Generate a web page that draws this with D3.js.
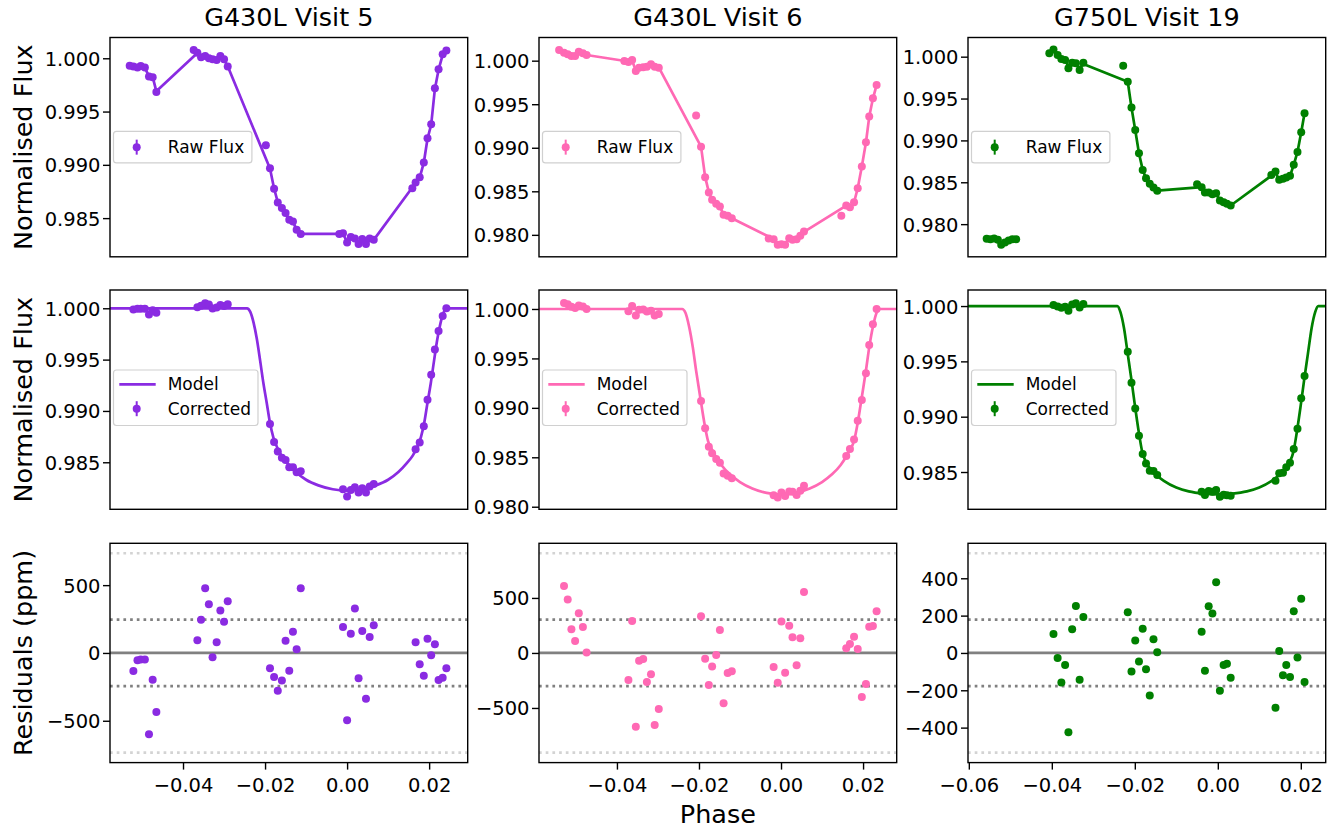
<!DOCTYPE html>
<html>
<head>
<meta charset="utf-8">
<script src="https://cdn.jsdelivr.net/npm/d3@7/dist/d3.min.js"></script>
<style>
  html, body { margin: 0; padding: 0; background: #fff; }
  svg { display: block; }
</style>
</head>
<body>
<svg id="chart" width="1338" height="829"></svg>
<script>
// ---------------------------------------------------------------
// Light-curve data: three HST/STIS visits
// ---------------------------------------------------------------
const visitTitles = ["G430L Visit 5", "G430L Visit 6", "G750L Visit 19"];
const visitColors = ["#8a2be2", "#ff69b4", "#008000"];

const phaseTicks = [-0.06, -0.04, -0.02, 0.00, 0.02];
const fluxTicks = [0.980, 0.985, 0.990, 0.995, 1.000];
const residTicks5 = [-500, 0, 500];
const residTicks6 = [-500, 0, 500];
const residTicks19 = [-400, -200, 0, 200, 400];
const residualStd = [245, 302, 178];           // ppm, 1-sigma scatter per visit

const phaseLimits = [[-0.0578, 0.0294], [-0.0590, 0.0282], [-0.0602, 0.0260]];
const rawLimits = [[0.98137, 1.00195], [0.97748, 1.00266], [0.97610, 1.00229]];
const corrLimits = [[0.98042, 1.00178], [0.97974, 1.00192], [0.98163, 1.00145]];

// ---- Visit 5 (G430L) ----
const v5Phase = [
  -0.0521,-0.0511,-0.0503,-0.0493,-0.0483,-0.0474,-0.0465,
  -0.0365,-0.0356,-0.0346,-0.0337,-0.0328,-0.0318,-0.0309,-0.0300,-0.0291,
  -0.0188,-0.0178,-0.0169,-0.0159,-0.0150,-0.0141,-0.0132,-0.0123,-0.0113,
  -0.0010,0.0000,0.0009,0.0019,0.0028,0.0037,0.0046,0.0055,0.0065,
  0.0167,0.0177,0.0187,0.0196,0.0205,0.0214,0.0223,0.0233,0.0242];
const v5Raw = [
  0.99922,0.99913,0.99928,0.99913,0.99828,0.99822,0.99684,
  1.00053,1.00009,1.00022,1.00000,0.99991,0.99984,1.00022,0.99991,0.99922,
  0.98969,0.98775,0.98647,0.98594,0.98547,0.98484,0.98469,0.98391,0.98350,
  0.98359,0.98272,0.98322,0.98309,0.98256,0.98303,0.98256,0.98309,0.98297,
  0.98834,0.98884,0.99022,0.99250,0.99381,0.99719,0.99897,1.00038,1.00072];
const v5SysModel = [
  0.99925,0.99915,0.99925,0.99910,0.99832,0.99825,0.99690,
  1.00050,1.00012,1.00018,1.00000,0.99992,0.99986,1.00018,0.99990,0.99925,
  0.98965,0.98778,0.98650,0.98594,0.98545,0.98486,0.98465,0.98392,0.98352,
  0.98352,0.98280,0.98318,0.98306,0.98262,0.98300,0.98262,0.98305,0.98296,
  0.98830,0.98880,0.99020,0.99245,0.99378,0.99712,0.99893,1.00032,1.00068];
const v5Corrected = [
  0.99987,0.99995,0.99995,0.99995,0.99940,0.99980,0.99957,
  1.00009,1.00024,1.00048,1.00036,0.99997,1.00008,1.00031,1.00023,1.00038,
  0.98873,0.98698,0.98604,0.98545,0.98523,0.98451,0.98451,0.98403,0.98412,
  0.98237,0.98166,0.98231,0.98256,0.98205,0.98247,0.98205,0.98263,0.98289,
  0.98627,0.98693,0.98850,0.99108,0.99353,0.99598,0.99778,0.99925,1.00000];
const v5Residual = [
  -134,-54,-49,-49,-599,-198,-435,
  93,244,477,359,-32,78,313,230,381,
  -112,-178,-279,-203,90,-132,156,27,477,
  191,-496,142,328,-186,161,-337,117,205,
  78,-83,-169,105,-17,64,-200,-183,-112];
const v5DropPhase = [-0.0530, -0.0374, -0.0198, -0.0019, 0.0159];
const v5DropFlux = [0.99931, 1.00078, 0.99184, 0.98350, 0.98781];
const v5ModelPhase = [-0.0578,-0.0244,-0.0236,-0.0228,-0.0220,-0.0212,-0.0204,-0.0196,-0.0188,-0.0180,
  -0.0170,-0.0160,-0.0145,-0.0125,-0.0100,-0.0070,-0.0035,0.0000,0.0035,0.0070,0.0100,0.0125,0.0145,
  0.0160,0.0170,0.0180,0.0188,0.0196,0.0204,0.0212,0.0220,0.0228,0.0236,0.0244,0.0294];
const v5ModelFlux = [1,1,0.99965,0.99860,0.99700,0.99490,0.99270,0.99080,0.98884,0.98745,
  0.98640,0.98565,0.98490,0.98405,0.98330,0.98275,0.98237,0.98224,0.98237,0.98275,0.98330,0.98405,0.98490,
  0.98565,0.98640,0.98745,0.98884,0.99080,0.99270,0.99490,0.99700,0.99860,0.99965,1,1];

// ---- Visit 6 (G430L) ----
const v6Phase = [
  -0.0529,-0.0520,-0.0511,-0.0502,-0.0493,-0.0483,-0.0474,
  -0.0372,-0.0363,-0.0354,-0.0346,-0.0336,-0.0327,-0.0317,-0.0308,-0.0298,
  -0.0195,-0.0185,-0.0176,-0.0168,-0.0158,-0.0149,-0.0140,-0.0130,-0.0120,
  -0.0018,-0.0008,0.0001,0.0010,0.0020,0.0028,0.0038,0.0047,0.0056,
  0.0159,0.0168,0.0178,0.0187,0.0197,0.0207,0.0215,0.0224,0.0233];
const v6Raw = [
  1.00092,1.00073,1.00054,1.00054,1.00103,1.00084,1.00065,
  0.99985,1.00008,0.99881,0.99920,0.99924,0.99931,0.99958,0.99931,0.99920,
  0.99013,0.98662,0.98486,0.98402,0.98356,0.98325,0.98230,0.98218,0.98191,
  0.97950,0.97885,0.97893,0.97885,0.97962,0.97943,0.97950,0.97989,0.98038,
  0.98337,0.98317,0.98375,0.98535,0.98784,0.99063,0.99358,0.99568,0.99721];
const v6SysModel = [
  1.00085,1.00070,1.00058,1.00055,1.00095,1.00080,1.00065,
  0.99990,1.00000,0.99890,0.99920,0.99925,0.99930,0.99950,0.99930,0.99922,
  0.99013,0.98665,0.98490,0.98402,0.98356,0.98322,0.98235,0.98218,0.98191,
  0.97952,0.97890,0.97890,0.97890,0.97955,0.97945,0.97950,0.97985,0.98035,
  0.98335,0.98320,0.98372,0.98535,0.98784,0.99060,0.99355,0.99565,0.99720];
const v6Corrected = [
  1.00061,1.00049,1.00022,1.00011,1.00036,1.00024,1.00000,
  0.99976,1.00029,0.99933,0.99993,0.99995,0.99974,0.99981,0.99935,0.99949,
  0.99069,0.98793,0.98607,0.98540,0.98482,0.98445,0.98337,0.98314,0.98287,
  0.98115,0.98094,0.98145,0.98108,0.98155,0.98152,0.98118,0.98162,0.98213,
  0.98513,0.98583,0.98681,0.98870,0.99079,0.99349,0.99636,0.99845,1.00000];
const v6Residual = [
  609,485,215,109,361,236,3,
  -245,291,-670,-70,-55,-264,-194,-655,-509,
  333,-52,-291,-124,-18,209,-458,-182,-167,
  -127,-270,285,-179,248,142,-112,133,554,
  42,82,148,36,-400,-282,239,245,379];
const v6DropPhase = [-0.0541, -0.0382, -0.0207, -0.0030, 0.0147];
const v6DropFlux = [1.00122, 0.99996, 0.99369, 0.97958, 0.98218];
const v6ModelPhase = [-0.0590,-0.0241,-0.0233,-0.0224,-0.0215,-0.0207,-0.0197,-0.0187,-0.0178,-0.0168,
  -0.0158,-0.0145,-0.0125,-0.0100,-0.0070,-0.0035,0.0000,0.0035,0.0070,0.0100,0.0125,0.0145,0.0158,
  0.0168,0.0178,0.0187,0.0197,0.0207,0.0215,0.0224,0.0233,0.0241,0.0282];
const v6ModelFlux = [1,1,0.99962,0.99821,0.99612,0.99377,0.99110,0.98850,0.98666,0.98575,
  0.98500,0.98420,0.98330,0.98250,0.98185,0.98140,0.98122,0.98140,0.98185,0.98250,0.98330,0.98420,0.98500,
  0.98575,0.98666,0.98850,0.99110,0.99377,0.99612,0.99821,0.99962,1,1];

// ---- Visit 19 (G750L) ----
const v19Phase = [
  -0.0396,-0.0386,-0.0377,-0.0368,-0.0360,-0.0351,-0.0342,-0.0333,-0.0324,
  -0.0217,-0.0208,-0.0199,-0.0190,-0.0181,-0.0173,-0.0164,-0.0155,-0.0146,
  -0.0039,-0.0031,-0.0022,-0.0013,-0.0004,0.0005,0.0014,0.0022,0.0031,
  0.0139,0.0148,0.0157,0.0165,0.0174,0.0183,0.0192,0.0201,0.0209];
const v19Raw = [
  1.00087,1.00020,0.99972,0.99960,0.99861,0.99928,0.99920,0.99841,0.99928,
  0.99702,0.99392,0.99125,0.98847,0.98648,0.98549,0.98481,0.98437,0.98398,
  0.98441,0.98378,0.98378,0.98358,0.98370,0.98282,0.98262,0.98243,0.98223,
  0.98628,0.98529,0.98541,0.98557,0.98577,0.98708,0.98863,0.99097,0.99324];
const v19SysModel = [
  1.00065,1.00020,0.99975,0.99960,0.99885,0.99925,0.99915,0.99865,0.99912,
  0.99700,0.99392,0.99125,0.98847,0.98648,0.98549,0.98481,0.98437,0.98400,
  0.98441,0.98380,0.98375,0.98360,0.98362,0.98285,0.98262,0.98243,0.98223,
  0.98615,0.98530,0.98540,0.98557,0.98577,0.98708,0.98863,0.99097,0.99324];
const v19Corrected = [
  1.00010,0.99997,0.99984,0.99994,0.99958,1.00013,1.00025,0.99986,1.00019,
  0.99587,0.99307,0.99075,0.98828,0.98663,0.98578,0.98512,0.98509,0.98473,
  0.98322,0.98292,0.98328,0.98322,0.98337,0.98277,0.98295,0.98289,0.98286,
  0.98422,0.98488,0.98494,0.98542,0.98584,0.98708,0.98892,0.99166,0.99367];
const v19Residual = [
  101,-27,-158,-65,-425,127,251,-143,193,
  218,-99,67,-46,129,-87,-228,73,4,
  113,-96,250,211,379,-202,-65,-58,-133,
  -294,11,-119,-64,-129,223,-25,290,-156];
const v19DropPhase = [-0.0557,-0.0548,-0.0539,-0.0530,-0.0522,-0.0513,-0.0504,-0.0495,-0.0486,
  -0.0406,-0.0228,-0.0050,0.0129];
const v19DropFlux = [0.97825,0.97821,0.97829,0.97813,0.97753,0.97781,0.97805,0.97821,0.97821,
  1.00040,0.99893,0.98477,0.98588];
const v19ModelPhase = [-0.0602,-0.0242,-0.0235,-0.0226,-0.0217,-0.0208,-0.0199,-0.0190,-0.0182,-0.0173,
  -0.0164,-0.0150,-0.0130,-0.0100,-0.0070,-0.0035,0.0000,0.0035,0.0070,0.0100,0.0130,0.0150,0.0164,
  0.0173,0.0182,0.0190,0.0199,0.0208,0.0217,0.0226,0.0235,0.0242,0.0260];
const v19ModelFlux = [1,1,0.99950,0.99800,0.99565,0.99330,0.99080,0.98850,0.98680,0.98590,
  0.98535,0.98480,0.98420,0.98360,0.98325,0.98305,0.98298,0.98305,0.98325,0.98360,0.98420,0.98480,0.98535,
  0.98590,0.98680,0.98850,0.99080,0.99330,0.99565,0.99800,0.99950,1,1];

const visits = [
  { phase: v5Phase, raw: v5Raw, sys: v5SysModel, corr: v5Corrected, res: v5Residual,
    dropPhase: v5DropPhase, dropFlux: v5DropFlux, modelPhase: v5ModelPhase, modelFlux: v5ModelFlux,
    resTicks: residTicks5 },
  { phase: v6Phase, raw: v6Raw, sys: v6SysModel, corr: v6Corrected, res: v6Residual,
    dropPhase: v6DropPhase, dropFlux: v6DropFlux, modelPhase: v6ModelPhase, modelFlux: v6ModelFlux,
    resTicks: residTicks6 },
  { phase: v19Phase, raw: v19Raw, sys: v19SysModel, corr: v19Corrected, res: v19Residual,
    dropPhase: v19DropPhase, dropFlux: v19DropFlux, modelPhase: v19ModelPhase, modelFlux: v19ModelFlux,
    resTicks: residTicks19 }
];

// ---------------------------------------------------------------
// Layout
// ---------------------------------------------------------------
const W = 1338, H = 829;
const colLeft = [110, 539, 968];
const colWidth = 357.7;
const rowTop = [37.5, 290, 543.3];
const rowHeight = 219.3;

const FONT = '"DejaVu Sans", sans-serif';
const TICK_FS = 19.5, LABEL_FS = 25.5, LEGEND_FS = 17;
const LINE_W = 2.7, DOT_R = 4, SPINE_W = 1.4;

const svg = d3.select("#chart").attr("font-family", FONT);
svg.append("rect").attr("width", W).attr("height", H).attr("fill", "#fff");

const fmtFlux = d3.format(".3f");
const minus = s => s.replace("-", "\u2212");
const fmtPhase = d => minus(d3.format(".2f")(d));
const fmtRes = d => minus(String(d));

function makePanel(c, r, yDomain) {
  const g = svg.append("g").attr("transform", `translate(${colLeft[c]},${rowTop[r]})`);
  const id = `clip-${c}-${r}`;
  g.append("clipPath").attr("id", id)
    .append("rect").attr("width", colWidth).attr("height", rowHeight);
  const y = d3.scaleLinear().domain(yDomain).range([rowHeight, 0]);
  const plot = g.append("g").attr("clip-path", `url(#${id})`);
  return { g, plot, y };
}

function finishPanel(g, y, ticks, fmt, x, withX) {
  const dom = y.domain();
  const yAxis = d3.axisLeft(y)
    .tickValues(ticks.filter(t => t >= dom[0] - 1e-9 && t <= dom[1] + 1e-9))
    .tickFormat(fmt).tickSize(7).tickPadding(2.5);
  const ya = g.append("g").call(yAxis);
  ya.select(".domain").remove();
  ya.selectAll(".tick line").attr("stroke", "#000").attr("stroke-width", SPINE_W);
  ya.selectAll(".tick text").attr("font-size", TICK_FS).attr("font-family", FONT)
    .attr("fill", "#000").attr("dy", "0.36em");

  if (withX) {
    const xd = x.domain();
    const xAxis = d3.axisBottom(x)
      .tickValues(phaseTicks.filter(t => t >= xd[0] && t <= xd[1]))
      .tickFormat(fmtPhase).tickSize(7);
    const xa = g.append("g").attr("transform", `translate(0,${rowHeight})`).call(xAxis);
    xa.select(".domain").remove();
    xa.selectAll(".tick line").attr("stroke", "#000").attr("stroke-width", SPINE_W);
    xa.selectAll(".tick text").attr("font-size", TICK_FS).attr("font-family", FONT)
      .attr("fill", "#000").attr("y", 29.2).attr("dy", 0);
  }
  g.append("rect").attr("width", colWidth).attr("height", rowHeight)
    .attr("fill", "none").attr("stroke", "#000").attr("stroke-width", SPINE_W);
}

function legendBox(g, top, w, h) {
  g.append("rect").attr("x", 3.5).attr("y", top).attr("width", w).attr("height", h)
    .attr("rx", 3).attr("ry", 3)
    .attr("fill", "#fff").attr("fill-opacity", 0.8)
    .attr("stroke", "#d0d0d0").attr("stroke-width", 1.2);
}
function legendMarker(g, cx, cy, color) {
  g.append("line").attr("x1", cx).attr("x2", cx).attr("y1", cy - 7.5).attr("y2", cy + 7.5)
    .attr("stroke", color).attr("stroke-width", 2);
  g.append("circle").attr("cx", cx).attr("cy", cy).attr("r", DOT_R).attr("fill", color);
}
function legendText(g, x, cy, txt) {
  g.append("text").attr("x", x).attr("y", cy).attr("dy", "0.36em")
    .attr("font-size", LEGEND_FS).attr("fill", "#000").text(txt);
}

visits.forEach((v, c) => {
  const color = visitColors[c];
  const x = d3.scaleLinear().domain(phaseLimits[c]).range([0, colWidth]);
  const idx = d3.range(v.phase.length);

  // ---- Row 1: raw flux with the full systematics model ----
  {
    const { g, plot, y } = makePanel(c, 0, rawLimits[c]);
    const line = d3.line().x(i => x(v.phase[i])).y(i => y(v.sys[i]));
    plot.append("path").datum(idx).attr("d", line)
      .attr("fill", "none").attr("stroke", color).attr("stroke-width", LINE_W)
      .attr("stroke-linejoin", "round");
    plot.selectAll(".raw").data(idx).join("circle")
      .attr("cx", i => x(v.phase[i])).attr("cy", i => y(v.raw[i])).attr("r", DOT_R).attr("fill", color);
    plot.selectAll(".drop").data(d3.range(v.dropPhase.length)).join("circle")
      .attr("cx", i => x(v.dropPhase[i])).attr("cy", i => y(v.dropFlux[i])).attr("r", DOT_R).attr("fill", color);

    const cy = rowHeight / 2;
    legendBox(g, cy - 15.8, 138.4, 31.6);
    legendMarker(g, 26.7, cy, color);
    legendText(g, 57.7, cy, "Raw Flux");
    finishPanel(g, y, fluxTicks, fmtFlux, x, false);
  }

  // ---- Row 2: systematics-corrected flux with the transit model ----
  {
    const { g, plot, y } = makePanel(c, 1, corrLimits[c]);
    const mIdx = d3.range(v.modelPhase.length);
    const curve = d3.line().curve(d3.curveMonotoneX)
      .x(i => x(v.modelPhase[i])).y(i => y(v.modelFlux[i]));
    plot.append("path").datum(mIdx).attr("d", curve)
      .attr("fill", "none").attr("stroke", color).attr("stroke-width", LINE_W);
    plot.selectAll(".corr").data(idx).join("circle")
      .attr("cx", i => x(v.phase[i])).attr("cy", i => y(v.corr[i])).attr("r", DOT_R).attr("fill", color);

    const top = 370 - rowTop[1];
    legendBox(g, top, 144.5, 55.5);
    g.append("line").attr("x1", 9.3).attr("x2", 45.7).attr("y1", top + 14.3).attr("y2", top + 14.3)
      .attr("stroke", color).attr("stroke-width", LINE_W);
    legendText(g, 57.7, top + 14.3, "Model");
    legendMarker(g, 26.7, top + 38.7, color);
    legendText(g, 57.7, top + 38.7, "Corrected");
    finishPanel(g, y, fluxTicks, fmtFlux, x, false);
  }

  // ---- Row 3: residuals in ppm with 1- and 3-sigma guides ----
  {
    const s = residualStd[c];
    const lim = 1.1 * 3 * s;
    const { g, plot, y } = makePanel(c, 2, [-lim, lim]);
    const hline = (val, stroke, dash) => {
      const l = plot.append("line").attr("x1", 0).attr("x2", colWidth)
        .attr("y1", y(val)).attr("y2", y(val))
        .attr("stroke", stroke).attr("stroke-width", LINE_W);
      if (dash) l.attr("stroke-dasharray", dash);
    };
    hline(3 * s, "#d3d3d3", "2.7,4");
    hline(-3 * s, "#d3d3d3", "2.7,4");
    hline(s, "#808080", "2.7,4");
    hline(-s, "#808080", "2.7,4");
    hline(0, "#808080", null);
    plot.selectAll(".res").data(idx).join("circle")
      .attr("cx", i => x(v.phase[i])).attr("cy", i => y(v.res[i])).attr("r", DOT_R).attr("fill", color);
    finishPanel(g, y, v.resTicks, fmtRes, x, true);
  }

  // column title
  svg.append("text").attr("x", colLeft[c] + colWidth / 2).attr("y", 25.8)
    .attr("text-anchor", "middle").attr("font-size", LABEL_FS).attr("fill", "#000")
    .text(visitTitles[c]);
});

// axis labels
const yLabels = ["Normalised Flux", "Normalised Flux", "Residuals (ppm)"];
yLabels.forEach((t, r) => {
  const cy = rowTop[r] + rowHeight / 2;
  svg.append("text").attr("transform", `translate(31.7,${cy}) rotate(-90)`)
    .attr("text-anchor", "middle").attr("font-size", LABEL_FS).attr("fill", "#000").text(t);
});
svg.append("text").attr("x", colLeft[1] + colWidth / 2).attr("y", 823)
  .attr("text-anchor", "middle").attr("font-size", LABEL_FS).attr("fill", "#000").text("Phase");
</script>
</body>
</html>
